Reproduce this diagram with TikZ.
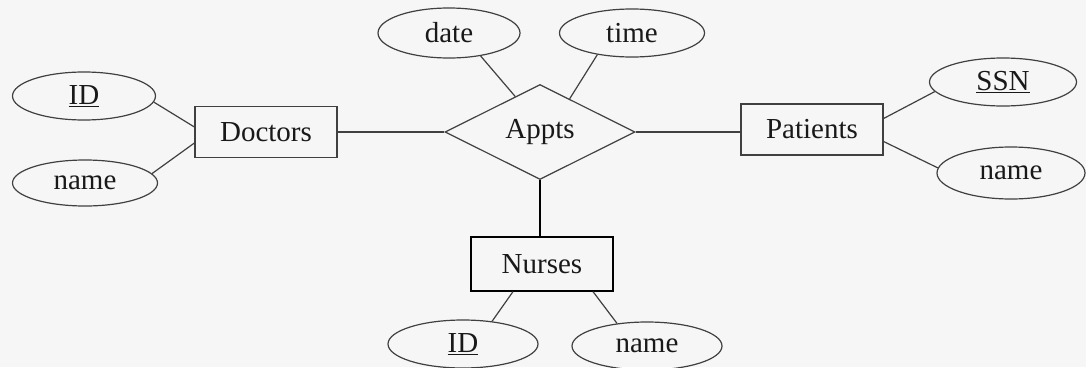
\documentclass[tikz,border=0pt]{standalone}
\usepackage{fontspec}
\setmainfont{Liberation Serif}
\usetikzlibrary{shapes.geometric,calc}
\begin{document}
\begin{tikzpicture}[x=1pt,y=-1pt,
  every node/.style={font=\fontsize{29}{32}\selectfont, text=black!90},
  entity/.style={draw=black!75, line width=1.2pt, rectangle, minimum width=142pt, minimum height=51pt, inner sep=0pt},
  attr/.style={draw=black!75, line width=1.2pt, ellipse, minimum width=145pt, minimum height=48pt, inner sep=0pt},
  rel/.style={draw=black!75, line width=1.2pt, diamond, minimum width=190pt, minimum height=95pt, inner sep=0pt},
  conn/.style={draw=black!75, line width=1.2pt}]
\fill[gray!7] (0,0) rectangle (1086,367);
\useasboundingbox (0,0) rectangle (1086,367);
% entities
\node[entity] (Doctors) at (266,132) {Doctors};
\node[entity] (Patients) at (812,129.5) {Patients};
\node[entity, minimum height=54pt, draw=black] (Nurses) at (542,264) {Nurses};
% relationship
\node[rel] (Appts) at (540,132) {Appts};
% attributes
\node[attr, minimum width=143pt] (dID) at (84,96) {\underline{ID}};
\node[attr, minimum height=46pt] (dname) at (85,183) {name};
\node[attr, minimum width=142pt, minimum height=50pt] (date) at (449,33) {date};
\node[attr] (time) at (632,33) {time};
\node[attr, minimum width=147pt] (SSN) at (1003,82) {\underline{SSN}};
\node[attr, minimum width=148pt, minimum height=52pt] (pname) at (1011,173) {name};
\node[attr, minimum width=150pt] (nID) at (463,344) {\underline{ID}};
\node[attr, minimum width=150pt] (nname) at (647,346) {name};
% connectors
\draw[conn] (dID.-5) -- ([yshift=5pt]Doctors.west);
\draw[conn] (dname.8) -- ([yshift=-11pt]Doctors.west);
\draw[conn] (Doctors.east) -- (Appts.west);
\draw[conn] (Appts.east) -- (Appts.east -| Patients.west);
\draw[conn] (date.-36) -- ($(Appts.west)!0.74!(Appts.north)$);
\draw[conn] (time.-148) -- ($(Appts.north)!0.31!(Appts.east)$);
\draw[conn, draw=black] (Appts.south) -- (Appts.south |- Nurses.north);
\draw[conn] ([yshift=11pt]Patients.east) -- (SSN.-172);
\draw[conn] ([yshift=-12pt]Patients.east) -- (pname.176);
\draw[conn] ([xshift=-29pt]Nurses.south) -- (nID.38);
\draw[conn] ([xshift=51pt]Nurses.south) -- (nname.143);
\end{tikzpicture}
\end{document}
